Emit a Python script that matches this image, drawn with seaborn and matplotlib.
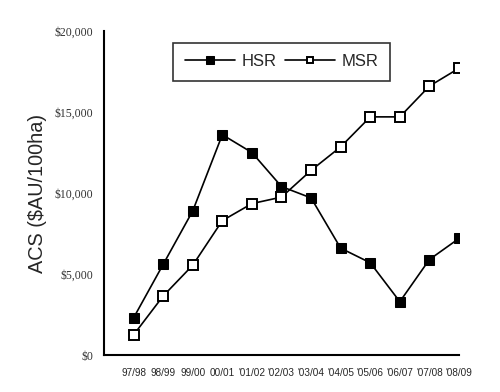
import pandas as pd
import matplotlib
matplotlib.use("Agg")
import matplotlib.pyplot as plt
import seaborn as sns
from matplotlib.ticker import FuncFormatter

sns.set_style("white")
plt.rcParams['font.family'] = ['Liberation Sans', 'DejaVu Sans']

# data
seasons = ["97/98", "98/99", "99/00", "00/01", "'01/02", "'02/03",
           "'03/04", "'04/05", "'05/06", "'06/07", "'07/08", "'08/09"]
hsr = [2300, 5600, 8900, 13600, 12500, 10400, 9700, 6600, 5700, 3300, 5900, 7200]
msr = [1250, 3650, 5550, 8300, 9350, 9750, 11400, 12850, 14700, 14700, 16600, 17700]

df = pd.DataFrame({"idx": range(len(seasons)), "season": seasons, "HSR": hsr, "MSR": msr})

fig = plt.figure(figsize=(5, 3.92), dpi=100)
ax = fig.add_axes([0.208, 0.094, 0.710, 0.827])

sns.lineplot(data=df, x="idx", y="HSR", ax=ax, color="black", lw=1.2,
             marker="s", markersize=7.8, markerfacecolor="black",
             markeredgecolor="black", label="HSR")
sns.lineplot(data=df, x="idx", y="MSR", ax=ax, color="black", lw=1.2,
             marker="s", markersize=6.8, markerfacecolor="white",
             markeredgecolor="black", markeredgewidth=1.4, label="MSR")

ax.set_xlim(-1, 11)
ax.set_ylim(0, 20000)
ax.set_xticks(range(-1, 12))
ax.set_xticklabels([""] + seasons, fontsize=7.2)
ax.set_yticks([0, 5000, 10000, 15000, 20000])
ax.yaxis.set_major_formatter(FuncFormatter(lambda v, p: "\\$" + format(int(v), ",")))
for t in ax.get_yticklabels():
    t.set_family("Liberation Serif")
    t.set_fontsize(8.5)
    t.set_color("#333333")

ax.set_xlabel("")
ax.set_ylabel("ACS (\\$AU/100ha)", fontsize=14.3)
ax.yaxis.set_label_coords(-0.16, 0.5)

for s in ["top", "right"]:
    ax.spines[s].set_visible(False)
for s in ["left", "bottom"]:
    ax.spines[s].set_linewidth(1.5)
    ax.spines[s].set_color("black")
ax.tick_params(axis="both", direction="out", length=4, width=1.5, color="black")
ax.tick_params(axis="x", pad=5)

leg = ax.legend(loc="upper center", bbox_to_anchor=(0.5, 0.99), ncol=2,
                fontsize=12, frameon=True, fancybox=False, handlelength=3.0,
                columnspacing=0.5, handletextpad=0.4, borderpad=0.7,
                markerscale=0.65)
leg.get_frame().set_edgecolor("black")
leg.get_frame().set_linewidth(1.2)

fig.savefig("out.png", dpi=100)
